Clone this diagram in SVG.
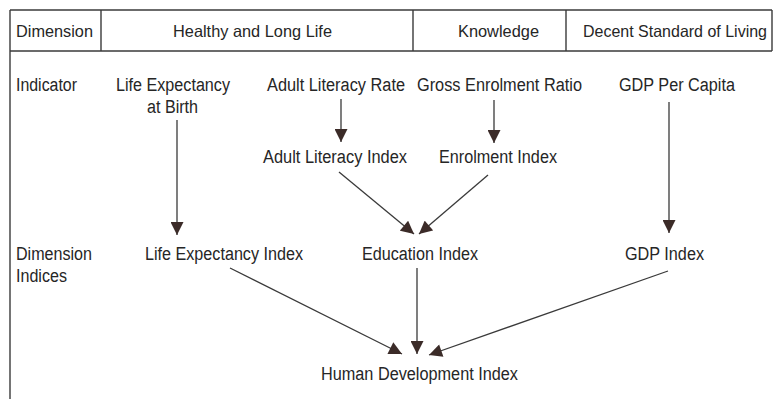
<svg xmlns="http://www.w3.org/2000/svg" width="773" height="399" viewBox="0 0 773 399">
<style>
  text { font-family: "Liberation Sans", Arial, sans-serif; fill: #262626; }
  .h { font-size: 16.5px; }
  .b { font-size: 18px; }
  .grid { stroke: #3a3a3a; stroke-width: 1.4; fill: none; }
  .conn line { stroke: #3a3a3a; stroke-width: 1.3; marker-end: url(#ah); }
</style>
<defs>
  <marker id="ah" viewBox="0 0 14 14" refX="14" refY="7" markerWidth="14" markerHeight="13" markerUnits="userSpaceOnUse" orient="auto">
    <path d="M0,0 L14,7 L0,14 z" fill="#3b2b28"/>
  </marker>
</defs>
<rect width="773" height="399" fill="#ffffff"/>
<g id="table" class="grid">
  <line x1="10" y1="10" x2="772" y2="10"/>
  <line x1="10" y1="51" x2="772" y2="51"/>
  <line x1="10" y1="10" x2="10" y2="399"/>
  <line x1="101" y1="10" x2="101" y2="51"/>
  <line x1="413" y1="10" x2="413" y2="51"/>
  <line x1="566" y1="10" x2="566" y2="51"/>
  <line x1="772" y1="10" x2="772" y2="51"/>
</g>
<g id="header">
  <text class="h" x="16" y="37" textLength="77" lengthAdjust="spacingAndGlyphs">Dimension</text>
  <text class="h" x="173" y="37" textLength="159" lengthAdjust="spacingAndGlyphs">Healthy and Long Life</text>
  <text class="h" x="458" y="37" textLength="81" lengthAdjust="spacingAndGlyphs">Knowledge</text>
  <text class="h" x="583" y="37" textLength="184" lengthAdjust="spacingAndGlyphs">Decent Standard of Living</text>
</g>
<g id="row-labels">
  <text class="b" x="16" y="91" textLength="61" lengthAdjust="spacingAndGlyphs">Indicator</text>
  <text class="b" x="16" y="260" textLength="76" lengthAdjust="spacingAndGlyphs">Dimension</text>
  <text class="b" x="16" y="282" textLength="51" lengthAdjust="spacingAndGlyphs">Indices</text>
</g>
<g id="n-lifeexp-birth">
  <text class="b" x="116" y="91" textLength="114" lengthAdjust="spacingAndGlyphs">Life Expectancy</text>
  <text class="b" x="147" y="113" textLength="51" lengthAdjust="spacingAndGlyphs">at Birth</text>
</g>
<g id="n-adult-literacy-rate">
  <text class="b" x="267" y="91" textLength="138" lengthAdjust="spacingAndGlyphs">Adult Literacy Rate</text>
</g>
<g id="n-gross-enrolment-ratio">
  <text class="b" x="417" y="91" textLength="165" lengthAdjust="spacingAndGlyphs">Gross Enrolment Ratio</text>
</g>
<g id="n-gdp-per-capita">
  <text class="b" x="619" y="91" textLength="116" lengthAdjust="spacingAndGlyphs">GDP Per Capita</text>
</g>
<g id="n-adult-literacy-index">
  <text class="b" x="263" y="163" textLength="144" lengthAdjust="spacingAndGlyphs">Adult Literacy Index</text>
</g>
<g id="n-enrolment-index">
  <text class="b" x="439" y="163" textLength="118" lengthAdjust="spacingAndGlyphs">Enrolment Index</text>
</g>
<g id="n-life-expectancy-index">
  <text class="b" x="145" y="260" textLength="158" lengthAdjust="spacingAndGlyphs">Life Expectancy Index</text>
</g>
<g id="n-education-index">
  <text class="b" x="362" y="260" textLength="116" lengthAdjust="spacingAndGlyphs">Education Index</text>
</g>
<g id="n-gdp-index">
  <text class="b" x="625" y="260" textLength="79" lengthAdjust="spacingAndGlyphs">GDP Index</text>
</g>
<g id="n-hdi">
  <text class="b" x="321" y="380" textLength="197" lengthAdjust="spacingAndGlyphs">Human Development Index</text>
</g>
<g id="connectors" class="conn">
  <line x1="341" y1="99" x2="341" y2="142"/>
  <line x1="494" y1="100" x2="494" y2="143"/>
  <line x1="177" y1="120" x2="177" y2="235"/>
  <line x1="669" y1="102" x2="669" y2="233"/>
  <line x1="339" y1="172" x2="414" y2="234"/>
  <line x1="488" y1="175" x2="419" y2="234"/>
  <line x1="230" y1="268" x2="402" y2="354"/>
  <line x1="417" y1="268" x2="417" y2="354"/>
  <line x1="668" y1="271" x2="429" y2="355"/>
</g>
</svg>
